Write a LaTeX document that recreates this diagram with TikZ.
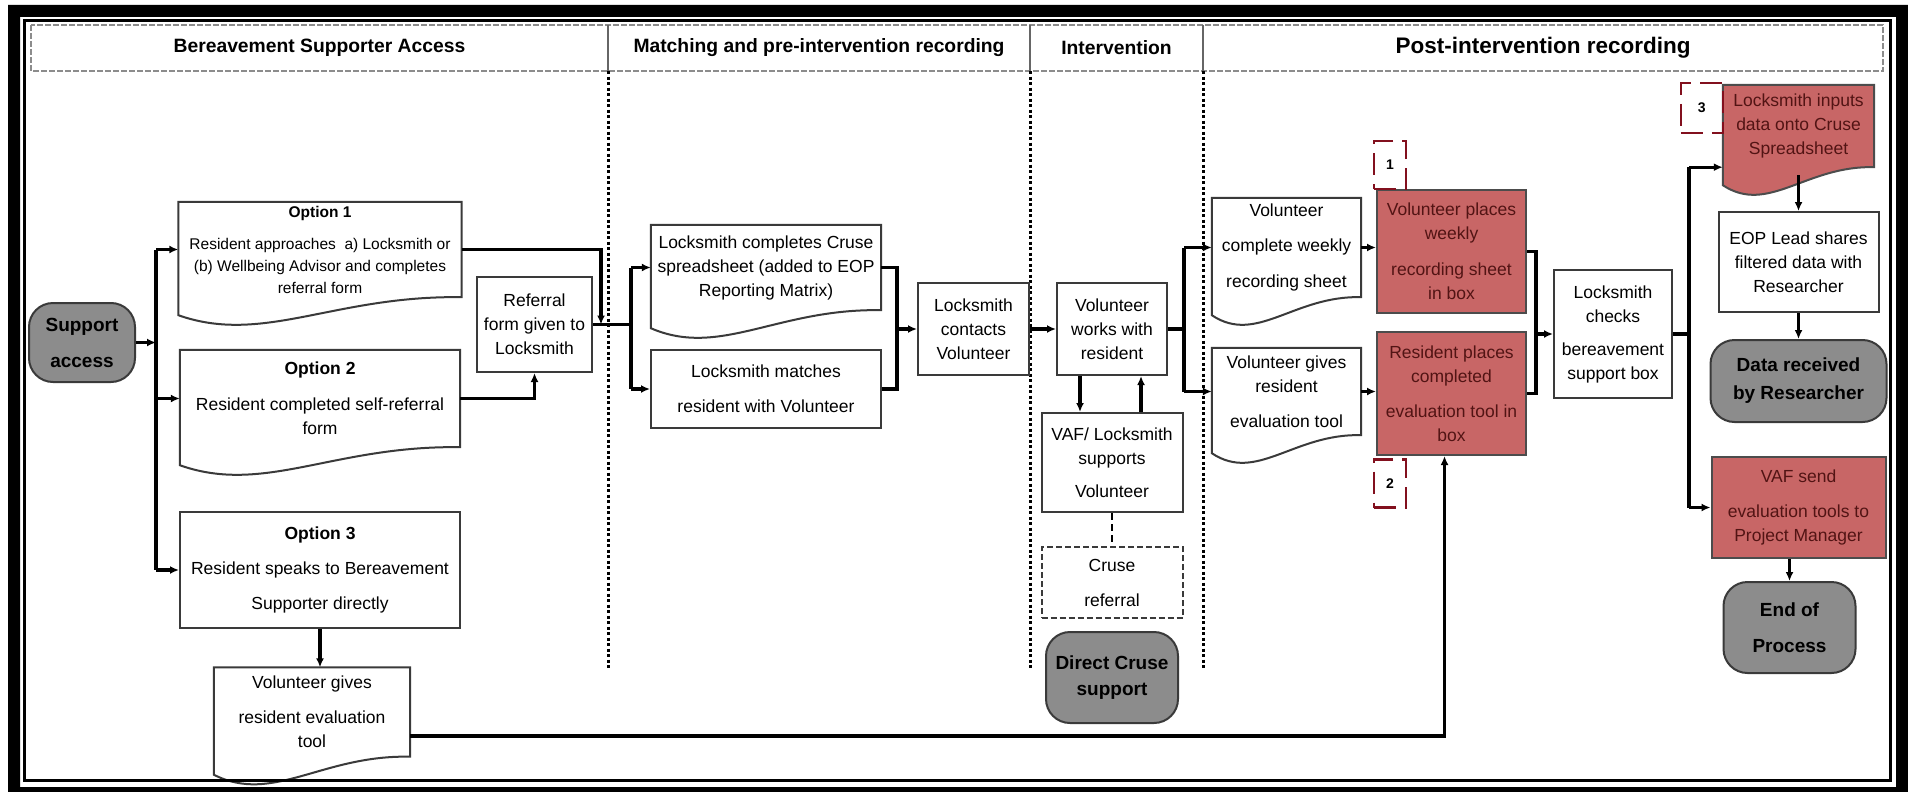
\documentclass[tikz,border=0pt]{standalone}
\usepackage{fontspec}
\setmainfont{Liberation Sans}
\usetikzlibrary{arrows.meta,positioning,calc}
\pgfdeclarelayer{background}
\pgfsetlayers{background,main}
\definecolor{boxred}{RGB}{200,102,102}
\definecolor{textred}{RGB}{82,20,20}
\definecolor{tagred}{RGB}{130,16,30}
\definecolor{termgray}{RGB}{140,140,140}
\definecolor{edgegray}{RGB}{58,58,58}

\begin{document}
\begin{tikzpicture}[x=1pt,y=-1pt,on grid,
   every node/.style={font=\fontsize{17.5}{24}\selectfont},
   wh/.style 2 args={minimum width=#1,minimum height=#2},
   box/.style={draw=edgegray,line width=2pt,fill=white,align=center,inner sep=2pt},
   redbox/.style={box,fill=boxred,draw=black!70,text=textred},
   doc/.style={align=center,inner sep=2pt},
   term/.style={rectangle,rounded corners=24pt,draw=edgegray,line width=2pt,
      fill=termgray,align=center,inner sep=2pt,font=\bfseries\fontsize{19}{26}\selectfont},
   numtag/.style={draw=tagred,line width=2.5pt,dash pattern=on 22pt off 9pt,wh={32pt}{48pt},
      font=\bfseries\fontsize{14}{14}\selectfont},
   hdr/.style={font=\bfseries\fontsize{19.3}{22}\selectfont},
   docline/.style={draw=edgegray,line width=2pt},
   docout/.style={insert path={(#1.north west) -- (#1.north east) -- (#1.south east)
      .. controls ($(#1.south west)!0.55!(#1.south east)+(0,-2)$)
      and ($(#1.south west)!0.3!(#1.south east)+(0,48)$) .. ($(#1.south west)+(0,18)$) -- cycle}},
   wire/.style={line width=3.2pt},
   arr/.style={wire,-{Latex[length=9pt,width=8pt]}},
   colline/.style={line width=3pt,dash pattern=on 3pt off 2.5pt}]

   \useasboundingbox (0,0) rectangle (1908,792);
   \fill[even odd rule] (8,5) rectangle (1908,792) (20,17) rectangle (1896,787);
   \draw[line width=3pt] (24,21) rectangle (1890,780);
   \draw[draw=black!45,line width=2pt,dash pattern=on 6pt off 2pt] (31,25) rectangle (1883,71);
   \foreach \x in {608,1030,1203} {
      \draw[black!60,line width=2pt] (\x,25) -- (\x,71);
      \draw[colline] (\x,71) -- (\x,670);
   }

   \node [hdr] (H_1) at (319.5,48) {Bereavement Supporter Access};
   \node [hdr] (H_2) at (819,48) {Matching and pre-intervention recording};
   \node [hdr] (H_3) at (1116.5,48) {Intervention};
   \node [hdr,font=\bfseries\fontsize{22.5}{26}\selectfont] (H_4) at (1543,48) {Post-intervention recording};

   \node [term,wh={106pt}{79pt}] (S_A) at (82,342.5) {Support\\[10pt]access};
   \node [doc,wh={280pt}{97pt}] (O_2) [below right=56pt and 238pt of S_A] {\textbf{Option 2}\\[12pt]Resident completed self-referral\\form};
   \node [doc,wh={283pt}{95pt},font=\fontsize{15.5}{22}\selectfont] (O_1) [above=149pt of O_2] {\textbf{Option 1}\\[10pt]Resident approaches\ \ a) Locksmith or\\(b) Wellbeing Advisor and completes\\referral form};
   \node [box,wh={280pt}{116pt}] (O_3) [below=171.5pt of O_2] {\textbf{Option 3}\\[11pt]Resident speaks to Bereavement\\[11pt]Supporter directly};
   \node [doc,wh={196pt}{89pt}] (E_1) [below=142pt of O_3, xshift=-8pt] {Volunteer gives\\[11pt]resident evaluation\\tool};
   \node [box,wh={115pt}{95pt}] (R_F) [above right=74pt and 214.5pt of O_2] {Referral\\form given to\\Locksmith};

   \node [doc,wh={230pt}{85pt}] (L_1) [above right=57pt and 231.5pt of R_F] {Locksmith completes Cruse\\spreadsheet (added to EOP\\Reporting Matrix)};
   \node [box,wh={230pt}{78pt}] (L_2) [below=121.5pt of L_1] {Locksmith matches\\[11pt]resident with Volunteer};
   \node [box,wh={111pt}{92pt}] (L_3) [below right=61.5pt and 207.5pt of L_1] {Locksmith\\contacts\\Volunteer};

   \node [box,wh={110pt}{92pt}] (V_1) [right=138.5pt of L_3] {Volunteer\\works with\\resident};
   \node [box,wh={141pt}{99pt}] (V_2) [below=133.5pt of V_1] {VAF/ Locksmith\\supports\\[9pt]Volunteer};
   \node [box,wh={141pt}{71pt},dash pattern=on 6pt off 3pt] (C_R) [below=120pt of V_2] {Cruse\\[11pt]referral};
   \node [term,wh={132pt}{91pt}] (C_D) [below=95pt of C_R] {Direct Cruse\\support};

   \node [doc,wh={149pt}{99pt}] (W_1) [above right=81.5pt and 174.5pt of V_1] {Volunteer\\[11pt]complete weekly\\[12pt]recording sheet};
   \node [doc,wh={149pt}{87pt}] (E_2) [below=144pt of W_1] {Volunteer gives\\resident\\[11pt]evaluation tool};
   \node [redbox,wh={149pt}{123pt}] (W_2) [below right=4pt and 165pt of W_1] {Volunteer places\\weekly\\[12pt]recording sheet\\in box};
   \node [redbox,wh={149pt}{123pt}] (E_3) [below=142pt of W_2] {Resident places\\completed\\[11pt]evaluation tool in\\box};
   \node [box,wh={118pt}{128pt}] (L_4) [below right=82.5pt and 161.5pt of W_2] {Locksmith\\checks\\[9pt]bereavement\\support box};

   \node [doc,wh={151pt}{82pt},text=textred] (L_5) [above right=208pt and 185.5pt of L_4] {Locksmith inputs\\data onto Cruse\\Spreadsheet};
   \node [box,wh={160pt}{100pt}] (P_1) [below=136pt of L_5] {EOP Lead shares\\filtered data with\\Researcher};
   \node [term,wh={176pt}{82pt}] (D_R) [below=119pt of P_1] {Data received\\[2pt]by Researcher};
   \node [redbox,wh={174pt}{101pt}] (P_2) [below=126.5pt of D_R] {VAF send\\[11pt]evaluation tools to\\Project Manager};
   \node [term,wh={132pt}{91pt}] (E_P) [below=120pt of P_2, xshift=-9pt] {End of\\[10pt]Process};

   \node [numtag] (T_1) [above right=24pt and 14pt of W_2.north west, anchor=center] {1};
   \node [numtag] (T_2) [below right=27.5pt and 14pt of E_3.south west, anchor=center] {2};
   \node [numtag,wh={42pt}{50pt}] (T_3) [below left=23pt and 21pt of L_5.north west, anchor=center] {3};

   \begin{pgfonlayer}{background}
      \foreach \d in {O_1,O_2,E_1,L_1,W_1,E_2}
         \draw[docline,fill=white,docout=\d];
      \draw[docline,draw=black!70,fill=boxred,docout=L_5];
   \end{pgfonlayer}

   \coordinate (trk) at ($(S_A.east)+(20,0)$);
   \draw[arr] (S_A.east) -- (trk);
   \draw[wire] (trk |- O_1.west) -- (trk |- O_3.west);
   \foreach \n in {O_1,O_2,O_3}
      \draw[arr] (trk |- \n.west) -- (\n.west);

   \coordinate (jn1) at ($(R_F.east)+(8,0)$);
   \coordinate (sp1) at ($(R_F.east)+(38,0)$);
   \draw[arr] (O_1.east) -| (jn1);
   \draw[arr] (O_2.east) -| (R_F.south);
   \draw[wire] (R_F.east) -- (sp1);
   \draw[wire] (sp1 |- L_1.west) -- (sp1 |- L_2.west);
   \foreach \n in {L_1,L_2}
      \draw[arr] (sp1 |- \n.west) -- (\n.west);
   \draw[arr] (O_3.south) -- (O_3.south |- E_1.north);
   \draw[arr] ([yshift=-24pt]E_1.east) -| ([xshift=-7pt]E_3.south);

   \coordinate (mg1) at ($(L_3.west)+(-20,0)$);
   \draw[wire] (L_1.east) -| (mg1) |- (L_2.east);
   \draw[arr] (mg1) -- (L_3.west);
   \draw[arr] (L_3.east) -- (V_1.west);

   \draw[arr] ([xshift=-32pt]V_1.south) -- ([xshift=-32pt]V_2.north);
   \draw[arr] ([xshift=29pt]V_2.north) -- ([xshift=29pt]V_1.south);
   \draw[line width=2.5pt,dash pattern=on 7pt off 4pt] (V_2.south) -- (C_R.north);

   \coordinate (sp3) at ($(V_1.east)+(16,0)$);
   \draw[wire] (V_1.east) -- (sp3);
   \draw[wire] (sp3 |- W_1.west) -- (sp3 |- E_2.west);
   \foreach \n in {W_1,E_2}
      \draw[arr] (sp3 |- \n.west) -- (\n.west);
   \draw[arr] (W_1.east) -- (W_1.east -| W_2.west);
   \draw[arr] (E_2.east) -- (E_2.east -| E_3.west);

   \coordinate (mg2) at ($(L_4.west)+(-17,0)$);
   \draw[wire] (W_2.east) -| (mg2) |- (E_3.east);
   \draw[arr] (mg2) -- (L_4.west);

   \coordinate (sp4) at ($(L_4.east)+(16,0)$);
   \draw[wire] (L_4.east) -- (sp4);
   \draw[wire] (sp4 |- L_5.south west) -- (sp4 |- P_2.west);
   \draw[arr] (sp4 |- L_5.south west) -- (L_5.south west);
   \draw[arr] (sp4 |- P_2.west) -- (P_2.west);
   \draw[arr] ([yshift=-8pt]L_5.south) -- (P_1.north);
   \draw[arr] (P_1.south) -- (D_R.north);
   \draw[arr] (E_P.north |- P_2.south) -- (E_P.north);
\end{tikzpicture}
\end{document}
